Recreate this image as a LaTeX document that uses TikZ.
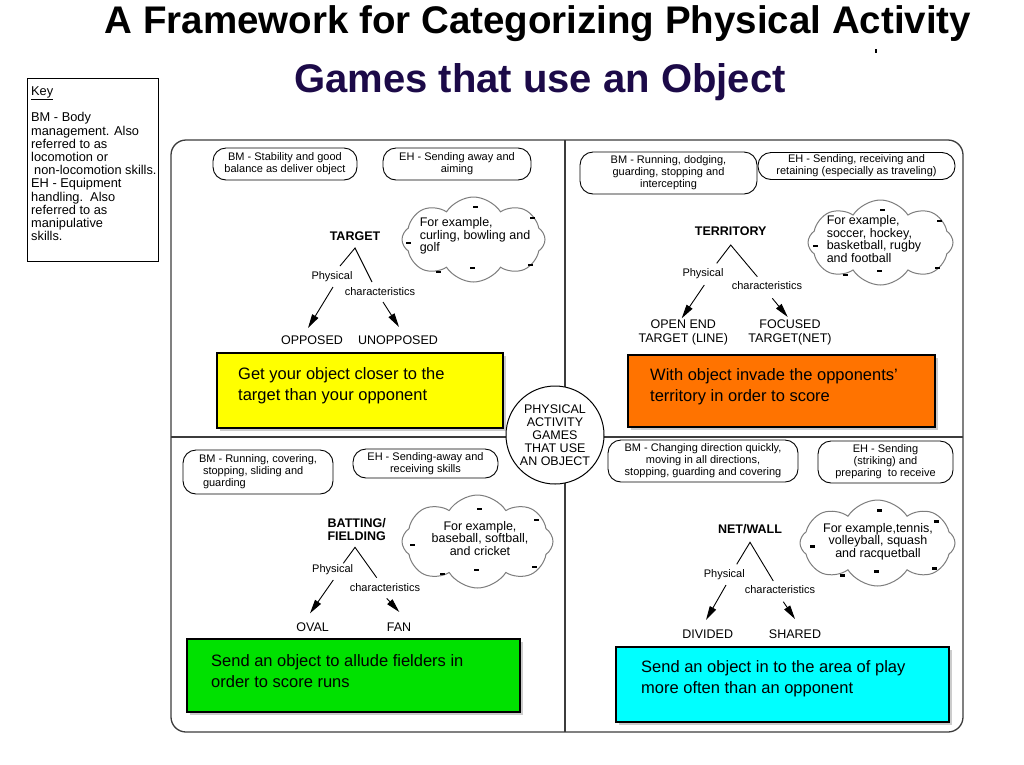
\documentclass[tikz,border=0pt]{standalone}
\usepackage{fontspec}
\setmainfont{Liberation Sans}
\usetikzlibrary{shapes.symbols,arrows.meta,shadows}
\definecolor{navy}{RGB}{28,10,72}
\definecolor{boxorange}{RGB}{255,115,0}
\definecolor{boxgreen}{RGB}{0,225,0}
\definecolor{boxcyan}{RGB}{0,255,255}
\definecolor{boxyellow}{RGB}{255,255,0}
\definecolor{framegray}{RGB}{60,60,60}
\definecolor{cloudgray}{RGB}{125,125,125}
\begin{document}
\begin{tikzpicture}[x=1pt,y=-1pt,
 pill/.style={draw=black,line width=0.9pt,rounded corners=13pt,align=center,font=\fontsize{11}{12}\selectfont,inner sep=1pt},
 cloudbox/.style={cloud,cloud puffs=8,cloud puff arc=115,aspect=1.7,draw=cloudgray,line width=1pt,inner sep=0pt},
 cloudtext/.style={font=\fontsize{12.5}{12.7}\selectfont,inner sep=0pt},
 cat/.style={font=\bfseries\fontsize{12.5}{12.5}\selectfont,align=center,inner sep=0pt},
 leaf/.style={font=\fontsize{12.5}{14}\selectfont,align=center,inner sep=0pt},
 small/.style={font=\fontsize{11}{12}\selectfont,inner sep=0pt},
 stem/.style={line width=0.9pt},
 branch/.style={line width=0.9pt,-{Triangle[length=14pt,width=7pt]}},
 goalbox/.style={draw=black,line width=1.3pt,drop shadow={shadow xshift=3pt,shadow yshift=-3pt,opacity=0.4}},
 goaltext/.style={font=\fontsize{16.5}{21}\selectfont,align=left,inner sep=0pt,anchor=west},
 divider/.style={draw=framegray,line width=1.2pt},
 cloudtick/.style={fill=black}
]
\fill[white] (0,0) rectangle (1024,764);
\useasboundingbox (0,0) rectangle (1024,764);

% titles
\node[font=\bfseries\fontsize{38.5}{40}\selectfont,anchor=base,inner sep=0pt] (title) at (538,33) {A Framework for Categorizing Physical Activity};
\node[font=\bfseries\fontsize{40}{42}\selectfont,text=navy,anchor=base,inner sep=0pt] (subtitle) at (540,92) {Games that use an Object};
\fill (875,49) rectangle (877,53);

% key
\node[draw,line width=0.9pt,minimum width=131pt,minimum height=183pt,inner sep=0pt] (keybox) at (92.5,170) {};
\node[font=\fontsize{12.8}{13.2}\selectfont,align=left,anchor=north west,inner sep=0pt] (keytext) at (31,86)
 {\underline{Key}\\[12pt]BM - Body\\management. Also\\referred to as\\locomotion or\\\hspace{3pt}non-locomotion skills.\\EH - Equipment\\handling.\ \ Also\\referred to as\\manipulative\\skills.};

% frame and dividers
\draw[draw=framegray,line width=1.3pt,rounded corners=15pt] (171,140) rectangle (963,732);
\coordinate (ftop) at (565,140);
\coordinate (fbot) at (565,732);
\coordinate (fleft) at (171,437);
\coordinate (fright) at (963,437);
\draw[divider] (ftop) -- (fbot);
\draw[divider] (fleft) -- (fright);
\node[circle,draw,line width=1pt,fill=white,minimum size=98pt,align=center,font=\fontsize{12.5}{12.9}\selectfont,inner sep=0pt] (hub) at (555,435) {PHYSICAL\\ACTIVITY\\GAMES\\THAT USE\\AN OBJECT};

% ---------- top left: TARGET
\node[pill,minimum width=144pt,minimum height=32pt] (tlbm) at (285,164) {BM - Stability and good\\balance as deliver object};
\node[pill,minimum width=148pt,minimum height=32pt] (tleh) at (457,164) {EH - Sending away and\\aiming};
\node[cloudbox,minimum width=143pt,minimum height=85pt] (tlcloud) at (473.5,239.5) {};
\node[cloudtext,align=left] (tlex) at (475,236) {For example,\\curling, bowling and\\golf};
\node[cat] (tlcat) at (355,236) {TARGET};
\coordinate (tlapex) at (355,248);
\coordinate (tll) at (340,266);
\coordinate (tlr) at (372,282);
\node[small] (tlphys) at (332,277) {Physical};
\node[small] (tlchar) at (380,292) {characteristics};
\node[leaf] (tlopp) at (312,340) {OPPOSED};
\node[leaf] (tlunopp) at (398,340) {UNOPPOSED};
\draw[stem] (tll) -- (tlapex) -- (tlr);
\coordinate (tla1) at (333,287); \coordinate (tla2) at (308,328);
\coordinate (tlb1) at (383,302); \coordinate (tlb2) at (399,327);
\draw[branch] (tla1) -- (tla2);
\draw[branch] (tlb1) -- (tlb2);
\node[goalbox,fill=boxyellow,minimum width=286pt,minimum height=75pt] (tlgoal) at (360,390.5) {};
\node[goaltext] (tlgoaltxt) at (238,385.5) {Get your object closer to the\\target than your opponent};

% ---------- top right: TERRITORY
\node[pill,minimum width=177pt,minimum height=42pt] (trbm) at (668.5,173) {BM - Running, dodging,\\guarding, stopping and\\intercepting};
\node[pill,minimum width=197pt,minimum height=27pt] (treh) at (856.5,166) {EH - Sending, receiving and\\retaining (especially as traveling)};
\node[cloudbox,minimum width=145pt,minimum height=85pt] (trcloud) at (880.5,242.5) {};
\node[cloudtext,align=left] (trex) at (874,239) {For example,\\soccer, hockey,\\basketball, rugby\\and football};
\node[cat] (trcat) at (730.7,230.7) {TERRITORY};
\coordinate (trapex) at (730.7,245);
\coordinate (trl) at (716.7,263.3);
\coordinate (trr) at (757.3,276.7);
\node[small] (trphys) at (703,274) {Physical};
\node[small] (trchar) at (767,286) {characteristics};
\node[leaf] (tropen) at (683.3,332.3) {OPEN END\\TARGET (LINE)};
\node[leaf] (trfocus) at (790,332.3) {FOCUSED\\TARGET(NET)};
\draw[stem] (trl) -- (trapex) -- (trr);
\coordinate (tra1) at (704.3,285); \coordinate (tra2) at (681.7,318.3);
\coordinate (trb1) at (772.3,298.3); \coordinate (trb2) at (787.7,317);
\draw[branch] (tra1) -- (tra2);
\draw[branch] (trb1) -- (trb2);
\node[goalbox,fill=boxorange,minimum width=307pt,minimum height=72pt] (trgoal) at (781.5,391) {};
\node[goaltext] (trgoaltxt) at (650,386.8) {With object invade the opponents'\\territory in order to score};

% ---------- bottom left: BATTING/FIELDING
\node[pill,minimum width=150pt,minimum height=44pt,align=left] (blbm) at (258,472) {BM - Running, covering,\\\hspace{4pt}stopping, sliding and\\\hspace{4pt}guarding};
\node[pill,minimum width=145pt,minimum height=29pt] (bleh) at (425.5,463.5) {EH - Sending-away and\\receiving skills};
\node[cloudbox,minimum width=151pt,minimum height=93pt] (blcloud) at (477.5,541.5) {};
\node[cloudtext,align=center] (blex) at (480,538.3) {For example,\\baseball, softball,\\and cricket};
\node[cat] (blcat) at (356.7,529.3) {BATTING/\\FIELDING};
\coordinate (blapex) at (355,547.3);
\coordinate (bll) at (343.3,563.3);
\coordinate (blr) at (376.7,577.7);
\node[small] (blphys) at (332.7,570) {Physical};
\node[small] (blchar) at (385,587.7) {characteristics};
\node[leaf] (bloval) at (312.7,626.7) {OVAL};
\node[leaf] (blfan) at (399,626.7) {FAN};
\draw[stem] (bll) -- (blapex) -- (blr);
\coordinate (bla1) at (333.3,580); \coordinate (bla2) at (310,613.3);
\coordinate (blb1) at (386.7,598.3); \coordinate (blb2) at (399.3,612);
\draw[branch] (bla1) -- (bla2);
\draw[branch] (blb1) -- (blb2);
\node[goalbox,fill=boxgreen,minimum width=333pt,minimum height=73pt] (blgoal) at (353.5,675.5) {};
\node[goaltext] (blgoaltxt) at (211,671.3) {Send an object to allude fielders in\\order to score runs};

% ---------- bottom right: NET/WALL
\node[pill,minimum width=190pt,minimum height=42pt] (brbm) at (703,461) {BM - Changing direction quickly,\\moving in all directions,\\stopping, guarding and covering};
\node[pill,minimum width=135pt,minimum height=42pt] (breh) at (885.5,462) {EH - Sending\\(striking) and\\preparing\ \ to receive};
\node[cloudbox,minimum width=155pt,minimum height=86pt] (brcloud) at (877.5,543) {};
\node[cloudtext,align=center] (brex) at (878,541.7) {For example,tennis,\\volleyball, squash\\and racquetball};
\node[cat] (brcat) at (750,529) {NET/WALL};
\coordinate (brapex) at (750,542.3);
\coordinate (brl) at (736.7,564.3);
\coordinate (brr) at (773.3,581);
\node[small] (brphys) at (724.3,574.3) {Physical};
\node[small] (brchar) at (780,590) {characteristics};
\node[leaf] (brdiv) at (707.7,634) {DIVIDED};
\node[leaf] (brshared) at (795,634) {SHARED};
\draw[stem] (brl) -- (brapex) -- (brr);
\coordinate (bra1) at (726,585); \coordinate (bra2) at (706,620);
\coordinate (brb1) at (783.3,601.7); \coordinate (brb2) at (795,619);
\draw[branch] (bra1) -- (bra2);
\draw[branch] (brb1) -- (brb2);
\node[goalbox,fill=boxcyan,minimum width=333pt,minimum height=75pt] (brgoal) at (782.5,684.5) {};
\node[goaltext] (brgoaltxt) at (641,679) {Send an object in to the area of play\\more often than an opponent};

% cloud ticks
\foreach \c in {tlcloud,trcloud,blcloud,brcloud}{
  \foreach \dx/\dy in {1.5/-32.5, 58.5/-21.5, -65.5/3.5, -35.5/32.5, -1.5/28.5, 56.5/25.5}{
    \fill[cloudtick] ([shift={(\dx-2.5,\dy-1.2)}]\c.center) rectangle ([shift={(\dx+2.5,\dy+1.2)}]\c.center);
  }
}
\end{tikzpicture}
\end{document}
